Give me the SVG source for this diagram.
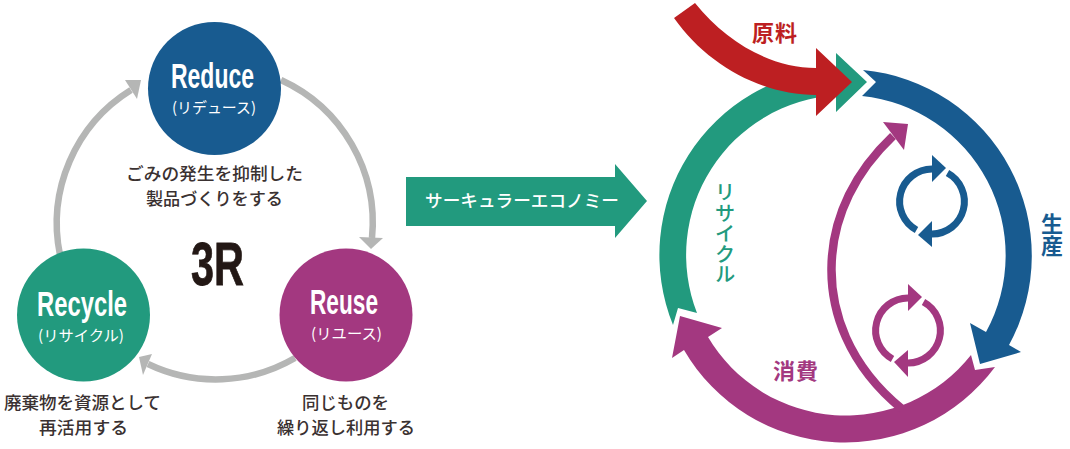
<svg xmlns="http://www.w3.org/2000/svg" width="1070" height="449" viewBox="0 0 1070 449">
<style>
text{font-family:"Noto Sans CJK JP","Liberation Sans",sans-serif}
.en{font-family:"Liberation Sans",Arial,sans-serif;font-weight:700;fill:#fff}
.sub{font-size:15px;fill:#fff}
.lab{font-size:17.5px;fill:#3a3131;font-weight:500}
.bl{font-size:22px;font-weight:700}
.ring{fill:none;stroke:#b5b6b5;stroke-width:6.5}
.head{fill:#b5b6b5}
.blue{fill:#185b90}.green{fill:#229a7e}.purple{fill:#a33880}.red{fill:#bd1f22}
.cyc{fill:none;stroke-width:7}
</style>
<rect width="1070" height="449" fill="#fff"/>
<g id="connectors">
<path class="ring" d="M281,80A157,157 0 0 1 372,238"/>
<polygon class="head" points="359,237 383,238 371,249"/>
<path class="ring" d="M295,358A157,157 0 0 1 148,364"/>
<polygon class="head" points="152,354 139,357 143,375"/>
<path class="ring" d="M60,255A157,157 0 0 1 131,90"/>
<polygon class="head" points="141,80 125,80 137,99"/>
<polygon class="green" points="406,177 615,177 615,164 647,201 615,238 615,226 406,226"/>
</g>
<g id="reduce"><circle cx="214.500" cy="88.500" r="66.500" fill="#185b90"/>
<text class="en" x="171" y="88" font-size="35" textLength="83" lengthAdjust="spacingAndGlyphs">Reduce</text>
<text class="sub" x="172" y="113" textLength="84" lengthAdjust="spacingAndGlyphs">(リデュース)</text>
<text class="lab" x="126" y="180" textLength="177" lengthAdjust="spacingAndGlyphs">ごみの発生を抑制した</text>
<text class="lab" x="146" y="205" textLength="137" lengthAdjust="spacingAndGlyphs">製品づくりをする</text></g>
<g id="recycle"><circle cx="83.500" cy="315" r="66.500" fill="#229a7e"/>
<text class="en" x="37" y="316" font-size="35" textLength="90" lengthAdjust="spacingAndGlyphs">Recycle</text>
<text class="sub" x="38" y="341" textLength="86" lengthAdjust="spacingAndGlyphs">(リサイクル)</text>
<text class="lab" x="4" y="409" textLength="157" lengthAdjust="spacingAndGlyphs">廃棄物を資源として</text>
<text class="lab" x="39" y="434" textLength="89" lengthAdjust="spacingAndGlyphs">再活用する</text></g>
<g id="reuse"><circle cx="346" cy="315" r="66.500" fill="#a33880"/>
<text class="en" x="310" y="314" font-size="35" textLength="68" lengthAdjust="spacingAndGlyphs">Reuse</text>
<text class="sub" x="311" y="339" textLength="71" lengthAdjust="spacingAndGlyphs">(リユース)</text>
<text class="lab" x="302" y="409" textLength="87" lengthAdjust="spacingAndGlyphs">同じものを</text>
<text class="lab" x="277" y="434" textLength="138" lengthAdjust="spacingAndGlyphs">繰り返し利用する</text></g>
<text id="center-3r" x="191" y="285" font-size="62" font-weight="700" fill="#231815" stroke="#231815" stroke-width="0.800" textLength="53" lengthAdjust="spacingAndGlyphs" style="font-family:'Liberation Sans',sans-serif">3R</text>
<text id="banner-label" x="425" y="207" font-size="17.500" font-weight="500" fill="#fff" textLength="194" lengthAdjust="spacingAndGlyphs">サーキュラーエコノミー</text>
<g id="recycle-arc"><path class="green" d="M697,313A160,160 0 0 1 836,95.300L836,112L867,82L836,53L836,68.800A186.500,186.500 0 0 0 673,325L678,308Z"/>
<text class="green" x="725" y="182" font-size="20.500" font-weight="500" style="writing-mode:vertical-rl">リサイクル</text></g>
<g id="material"><path class="red" d="M695,3C727,43 772,68 816,68L816,48L852,82L816,116L816,95C762,95 707,65 674,18Z"/>
<text class="red bl" x="752" y="41" textLength="45" lengthAdjust="spacing">原料</text></g>
<g id="production"><path class="blue" d="M863,70A186.500,186.500 0 0 1 1009,345L1021,352L980,364L970,323L986,332A160,160 0 0 0 862,96L876,82Z"/>
<text class="blue bl" x="1052" y="213" style="writing-mode:vertical-rl">生産</text>
<path class="cyc" stroke="#185b90" d="M916.500,230A32.500,32.500 0 0 1 932,169"/>
<polygon class="blue" points="932,155 946,168 932,182"/>
<path class="cyc" stroke="#185b90" d="M947.500,173A32.500,32.500 0 0 1 932,234"/>
<polygon class="blue" points="932,221 918,235 932,247"/></g>
<g id="consumption"><path class="purple" d="M995,367A186.500,186.500 0 0 1 684,350L672,358L680,316L722,328L708,337A160,160 0 0 0 971,355L975,370Z"/>
<path fill="none" stroke="#a33880" stroke-width="8.500" d="M902,409C847,364 831,310 831.500,268C832,215 857,170 893,136"/>
<polygon class="purple" points="908,124 883,122 904,150"/>
<text class="purple bl" x="773" y="379" textLength="45" lengthAdjust="spacing">消費</text>
<path class="cyc" stroke="#a33880" d="M892.500,359A32.500,32.500 0 0 1 908,298"/>
<polygon class="purple" points="908,284 922,297 908,311"/>
<path class="cyc" stroke="#a33880" d="M923.500,302A32.500,32.500 0 0 1 908,363"/>
<polygon class="purple" points="908,350 894,362 908,377"/></g>
</svg>
